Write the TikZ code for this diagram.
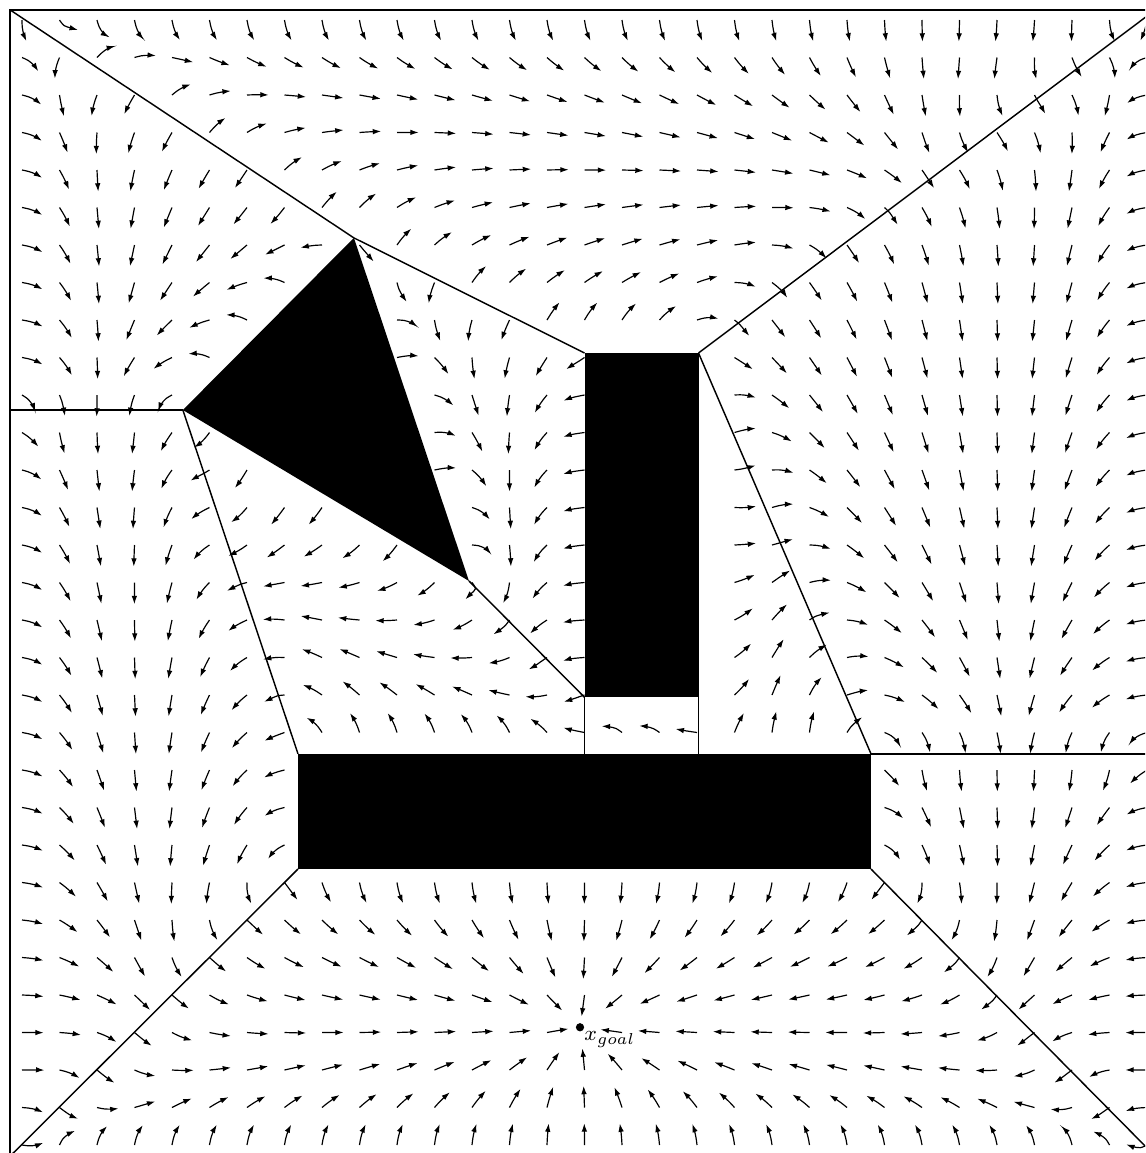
\documentclass[tikz,border=0pt]{standalone}
\usetikzlibrary{arrows.meta}
\makeatletter
\newdimen\vf@vxd \newdimen\vf@vyd
\newif\ifvf@done
\let\vfpx\relax \let\vfpy\relax
\def\vf@st#1#2{\expandafter\xdef\csname #1\endcsname{#2}}
% face: name, ax, ay, bx, by, sign (1 = wall/entry: inward normal, -1 = exit: outward normal)
\newcommand\vfface[6]{%
  \pgfmathsetmacro\vf@dx{(#4)-(#2)}%
  \pgfmathsetmacro\vf@dy{(#5)-(#3)}%
  \pgfmathsetmacro\vf@len{veclen(\vf@dx,\vf@dy)}%
  \pgfmathsetmacro\vf@a{-(\vf@dy)/\vf@len}%
  \pgfmathsetmacro\vf@b{(\vf@dx)/\vf@len}%
  \pgfmathsetmacro\vf@cst{-((\vf@a)*(#2)+(\vf@b)*(#3))}%
  \pgfmathsetmacro\vf@ex{(\vf@dx)/(\vf@len*\vf@len)}%
  \pgfmathsetmacro\vf@ey{(\vf@dy)/(\vf@len*\vf@len)}%
  \pgfmathsetmacro\vf@nx{(#6)*(\vf@a)}%
  \pgfmathsetmacro\vf@ny{(#6)*(\vf@b)}%
  \vf@st{vfG@#1}{{#2}{#3}{\vf@dx}{\vf@dy}{\vf@ex}{\vf@ey}{\vf@nx}{\vf@ny}}%
  \vf@st{vfa@#1}{\vf@a}\vf@st{vfb@#1}{\vf@b}\vf@st{vfc@#1}{\vf@cst}%
}
% cell: name, face list, attractor x, attractor y
\newcommand\vfcell[4]{%
  \gdef\vf@expr{}\gdef\vf@sep{}%
  \@for\vf@f:=#2\do{%
    \xdef\vf@expr{\vf@expr\vf@sep(\csname vfa@\vf@f\endcsname)*(\vfpx)+(\csname vfb@\vf@f\endcsname)*(\vfpy)+(\csname vfc@\vf@f\endcsname)}%
    \gdef\vf@sep{,}}%
  \vf@st{vfT@#1}{min(\vf@expr)}%
  \vf@st{vfL@#1}{#2}%
  \vf@st{vfA@#1}{{#3}{#4}}%
}
\def\vfcells{F,Q,B,E,D,A,N,M,K,S}
\def\vfgoalcell{Q}
\def\vfh{0.1933}
\def\vfeps{0.13}
\def\vf@test#1{\edef\vf@tmp{\csname vfT@#1\endcsname}\pgfmathparse{\vf@tmp}}
\newcommand\vffindcell{%
  \let\vf@found\@empty
  \ifx\vfcur\@empty\else
    \vf@test{\vfcur}%
    \ifdim\pgfmathresult pt>-0.005pt \let\vf@found\vfcur\fi
  \fi
  \ifx\vf@found\@empty
    \@for\vf@cc:=\vfcells\do{%
      \ifx\vf@found\@empty
        \vf@test{\vf@cc}%
        \ifdim\pgfmathresult pt>-0.005pt \let\vf@found\vf@cc\fi
      \fi}%
  \fi
}
\def\vf@setattr#1#2{\def\vf@atx{#1}\def\vf@aty{#2}}
\def\vf@face#1#2#3#4#5#6#7#8{%
  \pgfmathsetmacro\vf@t{max(0,min(1,(\vfpx-(#1))*(#5)+(\vfpy-(#2))*(#6)))}%
  \pgfmathsetmacro\vf@w{1/(veclen(\vfpx-(#1)-\vf@t*(#3),\vfpy-(#2)-\vf@t*(#4))^2+\vfeps)}%
  \advance\vf@vxd by #7\dimexpr\vf@w pt\relax
  \advance\vf@vyd by #8\dimexpr\vf@w pt\relax
}
\newcommand\vffield{%
  \expandafter\expandafter\expandafter\vf@setattr\csname vfA@\vfcur\endcsname
  \pgfmathsetmacro\vf@rx{\vf@atx-(\vfpx)}%
  \pgfmathsetmacro\vf@ry{\vf@aty-(\vfpy)}%
  \pgfmathsetmacro\vfgd{veclen(\vf@rx,\vf@ry)}%
  \pgfmathsetmacro\vf@sx{\vf@rx/(\vfgd+0.01)}%
  \pgfmathsetmacro\vf@sy{\vf@ry/(\vfgd+0.01)}%
  \vf@vxd=\vf@sx pt\relax \vf@vyd=\vf@sy pt\relax
  \edef\vf@list{\csname vfL@\vfcur\endcsname}%
  \@for\vf@f:=\vf@list\do{%
    \expandafter\expandafter\expandafter\vf@face\csname vfG@\vf@f\endcsname}%
  \edef\vf@vx{\strip@pt\vf@vxd}\edef\vf@vy{\strip@pt\vf@vyd}%
  \pgfmathsetmacro\vf@vl{veclen(\vf@vx,\vf@vy)+0.00001}%
  \pgfmathsetmacro\vfvx{\vf@vx/\vf@vl}%
  \pgfmathsetmacro\vfvy{\vf@vy/\vf@vl}%
}
\def\vf@move{%
  \pgfmathsetmacro\vfpx{\vfpx+\vfh*\vfvx}%
  \pgfmathsetmacro\vfpy{\vfpy+\vfh*\vfvy}%
}
\def\vf@step{%
  \ifvf@done\else
    \let\vf@prev\vfcur
    \vffindcell
    \ifx\vf@found\@empty \let\vfcur\vf@prev \else \let\vfcur\vf@found \fi
    \vffield
    \ifx\vfcur\vfgoalcell
      \ifdim\vfgd pt<\vfh pt
        \def\vfpx{14.88}\def\vfpy{-26.86}\vf@donetrue
      \else \vf@move \fi
    \else \vf@move \fi
    \xdef\vf@pts{\vf@pts (\vfpx,\vfpy)}%
  \fi
}
\newcommand\vfarrow[2]{%
  \edef\vfpx{#1}\edef\vfpy{-#2}%
  \let\vfcur\@empty
  \vffindcell
  \let\vfcur\vf@found
  \ifx\vfcur\@empty\else
    \pgfmathsetmacro\vf@g{veclen(\vfpx-14.88,\vfpy+26.86)}%
    \ifdim\vf@g pt>0.3pt
      \xdef\vf@pts{(\vfpx,\vfpy)}%
      \vf@donefalse
      \vf@step\vf@step\vf@step
      \edef\vf@cmd{\noexpand\draw[vfarr] plot[smooth,tension=0.6] coordinates {\vf@pts};}%
      \vf@cmd
    \fi
  \fi
}
% ---- cells ----
\vfface{A1}{-0.32}{0.27}{-0.32}{-10.40}{1}
\vfface{A2}{-0.32}{-10.40}{4.29}{-10.40}{-1}
\vfface{A3}{4.29}{-10.40}{8.85}{-5.81}{1}
\vfface{A4}{8.85}{-5.81}{-0.32}{0.27}{1}
\vfcell{A}{A1,A2,A3,A4}{1.985}{-10.40}
\vfface{B1}{-0.32}{-10.40}{-0.32}{-30.30}{1}
\vfface{B2}{-0.32}{-30.30}{7.36}{-22.64}{-1}
\vfface{B3}{7.36}{-22.64}{7.36}{-19.57}{1}
\vfface{B4}{7.36}{-19.57}{4.29}{-10.40}{1}
\vfface{B5}{4.29}{-10.40}{-0.32}{-10.40}{1}
\vfcell{B}{B1,B2,B3,B4,B5}{3.52}{-26.47}
\vfface{Q1}{-0.32}{-30.30}{30.22}{-30.30}{1}
\vfface{Q2}{30.22}{-30.30}{22.64}{-22.64}{1}
\vfface{Q3}{22.64}{-22.64}{7.36}{-22.64}{1}
\vfface{Q4}{7.36}{-22.64}{-0.32}{-30.30}{1}
\vfcell{Q}{Q1,Q2,Q3,Q4}{14.88}{-26.86}
\vfface{D1}{22.64}{-22.64}{30.22}{-30.30}{-1}
\vfface{D2}{30.22}{-30.30}{30.22}{-19.57}{1}
\vfface{D3}{30.22}{-19.57}{22.64}{-19.57}{1}
\vfface{D4}{22.64}{-19.57}{22.64}{-22.64}{1}
\vfcell{D}{D1,D2,D3,D4}{26.43}{-26.47}
\vfface{E1}{22.64}{-19.57}{30.22}{-19.57}{-1}
\vfface{E2}{30.22}{-19.57}{30.22}{0.27}{1}
\vfface{E3}{30.22}{0.27}{18.04}{-8.88}{1}
\vfface{E4}{18.04}{-8.88}{22.64}{-19.57}{1}
\vfcell{E}{E1,E2,E3,E4}{26.43}{-19.57}
\vfface{F1}{-0.32}{0.27}{8.85}{-5.81}{1}
\vfface{F2}{8.85}{-5.81}{15.00}{-8.88}{1}
\vfface{F3}{15.00}{-8.88}{18.04}{-8.88}{1}
\vfface{F4}{18.04}{-8.88}{30.22}{0.27}{-1}
\vfface{F5}{30.22}{0.27}{-0.32}{0.27}{1}
\vfcell{F}{F1,F2,F3,F4,F5}{24.13}{-4.305}
\vfface{M1}{8.85}{-5.81}{11.92}{-14.96}{1}
\vfface{M2}{11.92}{-14.96}{15.00}{-18.06}{-1}
\vfface{M3}{15.00}{-18.06}{15.00}{-8.88}{1}
\vfface{M4}{15.00}{-8.88}{8.85}{-5.81}{1}
\vfcell{M}{M1,M2,M3,M4}{13.46}{-16.51}
\vfface{N1}{4.29}{-10.40}{7.36}{-19.57}{-1}
\vfface{N2}{7.36}{-19.57}{15.00}{-19.57}{1}
\vfface{N3}{15.00}{-19.57}{15.00}{-18.06}{1}
\vfface{N4}{15.00}{-18.06}{11.92}{-14.96}{1}
\vfface{N5}{11.92}{-14.96}{4.29}{-10.40}{1}
\vfcell{N}{N1,N2,N3,N4,N5}{5.825}{-14.985}
\vfface{S1}{15.00}{-19.57}{18.04}{-19.57}{1}
\vfface{S2}{18.04}{-19.57}{18.04}{-18.06}{1}
\vfface{S3}{18.04}{-18.06}{15.00}{-18.06}{1}
\vfface{S4}{15.00}{-18.06}{15.00}{-19.57}{-1}
\vfcell{S}{S1,S2,S3,S4}{15.00}{-18.815}
\vfface{K1}{18.04}{-8.88}{18.04}{-19.57}{1}
\vfface{K2}{18.04}{-19.57}{22.64}{-19.57}{1}
\vfface{K3}{22.64}{-19.57}{18.04}{-8.88}{-1}
\vfcell{K}{K1,K2,K3}{20.34}{-14.225}
\makeatother
\tikzset{
  vfarr/.style={line width=0.45pt,-{Latex[length=3.2pt,width=2.1pt]}},
  cellline/.style={line width=0.55pt},
  framebox/.style={line width=0.8pt},
  obstacle/.style={fill=black}
}
\begin{document}
\begin{tikzpicture}[x=0.5cm,y=0.5cm]
\useasboundingbox (-0.5867,-30.2133) rectangle (29.9467,0.5333);
\clip (-0.5867,-30.2133) rectangle (29.9467,0.5333);
\coordinate (CTL) at (-0.32,0.27);
\coordinate (CTR) at (30.22,0.27);
\coordinate (CBR) at (30.22,-30.30);
\coordinate (CBL) at (-0.32,-30.30);
\coordinate (T1) at (8.85,-5.81);
\coordinate (T2) at (4.29,-10.40);
\coordinate (T3) at (11.92,-14.96);
\coordinate (R1) at (15.00,-8.88);
\coordinate (R2) at (18.04,-8.88);
\coordinate (R3) at (18.04,-18.06);
\coordinate (R4) at (15.00,-18.06);
\coordinate (H1) at (7.36,-19.57);
\coordinate (H2) at (22.64,-19.57);
\coordinate (H3) at (22.64,-22.64);
\coordinate (H4) at (7.36,-22.64);
\coordinate (L) at (-0.32,-10.40);
\coordinate (Rt) at (30.22,-19.57);
\coordinate (S1) at (15.00,-19.57);
\coordinate (S2) at (18.04,-19.57);
\coordinate (G) at (14.88,-26.86);
% obstacles
\fill[obstacle] (T1) -- (T2) -- (T3) -- cycle;
\fill[obstacle] (R1) rectangle (R3);
\fill[obstacle] (H1) rectangle (H3);
% cell boundaries
\draw[cellline] (CTL) -- (T1);
\draw[cellline] (T1) -- (R1);
\draw[cellline] (R2) -- (CTR);
\draw[cellline] (L) -- (T2);
\draw[cellline] (T2) -- (H1);
\draw[cellline] (T3) -- (R4);
\draw[cellline] (R2) -- (H2);
\draw[cellline] (H2) -- (Rt);
\draw[cellline] (H4) -- (CBL);
\draw[cellline] (H3) -- (CBR);
\draw[cellline] (R4) -- (S1);
\draw[cellline] (R3) -- (S2);
% vector field
\foreach \i in {0,...,30}{\foreach \j in {0,...,30}{\vfarrow{\i}{\j}}}
% frame
\draw[framebox] (CTL) rectangle (CBR);
% goal
\fill (G) circle (0.11);
\node[anchor=north west,inner sep=0pt,font=\footnotesize,xshift=1.5pt,yshift=-1.3pt] (goallabel) at (G) {$x_{goal}$};
\end{tikzpicture}
\end{document}
